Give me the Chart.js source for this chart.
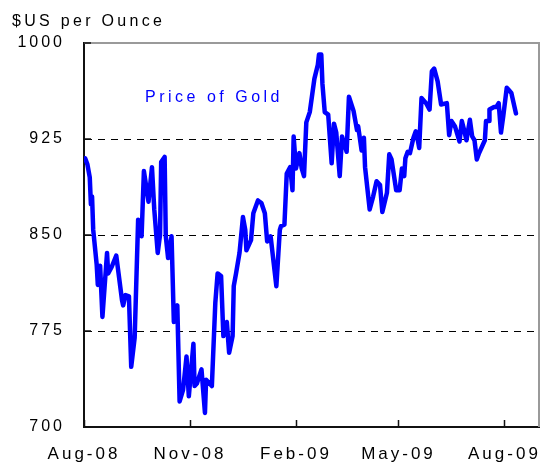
<!DOCTYPE html>
<html>
<head>
<meta charset="utf-8">
<script src="https://cdn.jsdelivr.net/npm/chart.js@4"></script>
<style>
  html, body { margin: 0; padding: 0; background: #fff; }
  canvas { display: block; }
</style>
</head>
<body>
<canvas id="c" width="548" height="463"></canvas>
<script>
// Days since 1 Aug 2008
const days = [1,3,5,6,7,8,11,12,14,16,20,21,24,28,33,34,36,39,41,44,47,50,52,56,59,61,64,66,67,70,71,73,76,78,81,83,86,89,91,95,96,98,102,105,106,111,114,116,119,121,124,126,129,130,132,135,138,140,141,145,147,151,154,157,159,162,167,170,171,174,176,179,181,182,184,187,189,191,193,196,200,203,204,206,207,209,212,215,217,219,222,224,228,230,234,237,238,241,243,244,248,251,254,257,259,263,265,267,271,274,276,278,279,281,283,286,288,290,291,293,297,300,302,304,307,310,315,317,319,322,326,328,330,332,335,337,339,341,343,348,349,352,352,356,358,360,362,364,367,369,371,375];
// Gold price, $US per ounce
const prices = [910,905,895,874,880,854,827,811,826,786,836,820,825,834,799,795,803,802,747,770,862,849,900,876,903,870,836,850,907,911,849,832,849,782,795,720,729,755,724,765,732,734,745,711,737,732,797,820,818,771,782,758,771,810,820,836,864,854,838,846,867,877,875,867,845,849,810,854,857,858,898,903,885,927,902,914,902,896,938,946,972,983,991,991,968,946,944,906,937,930,896,927,915,958,947,932,935,916,926,903,870,880,892,889,868,883,913,909,885,885,902,896,910,915,914,926,931,923,918,957,953,948,978,980,970,952,953,928,939,935,923,939,932,924,940,927,924,909,914,924,939,939,948,950,950,953,930,943,965,963,961,945];
const tickDays = [0, 92, 184, 273, 365];
const tickLabels = ['Aug-08', 'Nov-08', 'Feb-09', 'May-09', 'Aug-09'];
const yTicks = [700, 775, 850, 925, 1000];
const yTitle = '$US per Ounce';
const seriesLabel = 'Price of Gold';

const FONT = "'Liberation Sans', Arial, sans-serif";
Chart.defaults.font.family = FONT;
Chart.defaults.font.size = 16;
Chart.defaults.color = '#000';

const spacingPlugin = {
  id: 'spacing',
  beforeLayout(chart) { chart.ctx.letterSpacing = '3px'; },
  beforeDraw(chart) { chart.ctx.letterSpacing = '3px'; },
  afterDraw(chart) {
    const ctx = chart.ctx;
    const a = chart.chartArea;
    const xs = chart.scales.x, ys = chart.scales.y;
    ctx.save();
    // gray top and right frame
    ctx.strokeStyle = '#9a9a9a';
    ctx.lineWidth = 2;
    ctx.beginPath();
    ctx.moveTo(a.left, a.top);
    ctx.lineTo(a.right, a.top);
    ctx.lineTo(a.right, a.bottom);
    ctx.stroke();
    // inner tick marks
    ctx.strokeStyle = '#111';
    ctx.lineWidth = 1.5;
    ctx.beginPath();
    xs.ticks.forEach(t => {
      const px = Math.round(xs.getPixelForValue(t.value)) + 0.5;
      ctx.moveTo(px, a.bottom);
      ctx.lineTo(px, a.bottom - 7);
    });
    ys.ticks.forEach(t => {
      const py = Math.round(ys.getPixelForValue(t.value));
      ctx.moveTo(a.left, py);
      ctx.lineTo(a.left + 7, py);
    });
    ctx.stroke();
    // texts
    ctx.letterSpacing = '3.3px';
    ctx.font = '16px ' + FONT;
    ctx.fillStyle = '#000';
    ctx.textAlign = 'left';
    ctx.textBaseline = 'alphabetic';
    ctx.fillText(yTitle, 12, 26);
    ctx.letterSpacing = '3.5px';
    ctx.fillStyle = '#0000ff';
    ctx.fillText(seriesLabel, 145, 102);
    ctx.restore();
  }
};

new Chart(document.getElementById('c'), {
  type: 'line',
  data: {
    datasets: [{
      label: seriesLabel,
      data: days.map((d, i) => ({ x: d, y: prices[i] })),
      borderColor: '#0000ff',
      backgroundColor: '#0000ff',
      borderWidth: 4.5,
      pointRadius: 0,
      tension: 0,
      borderJoinStyle: 'round',
      borderCapStyle: 'round'
    }]
  },
  options: {
    responsive: false,
    animation: false,
    layout: { padding: { top: 43, right: 9, left: 0, bottom: 0 } },
    plugins: { legend: { display: false }, tooltip: { enabled: false }, title: { display: false } },
    scales: {
      x: {
        type: 'linear',
        min: 0,
        max: 395,
        afterBuildTicks: s => { s.ticks = tickDays.map(v => ({ value: v })); },
        afterFit: s => { s.height = 36; s.paddingLeft = 0; s.paddingRight = 0; },
        ticks: {
          autoSkip: false,
          maxRotation: 0,
          padding: 17,
          font: { size: 17 },
          callback: (v, i) => tickLabels[i]
        },
        grid: { display: true, color: 'rgba(0,0,0,0)', drawTicks: false },
        border: { display: true, color: '#111', width: 2 }
      },
      y: {
        min: 700,
        max: 1000,
        afterBuildTicks: s => { s.ticks = yTicks.map(v => ({ value: v })); },
        afterFit: s => { s.width = 84; s.paddingTop = 0; s.paddingBottom = 0; },
        ticks: { padding: 19, callback: v => String(v) },
        grid: {
          drawTicks: false,
          lineWidth: 1,
          color: c => (c.tick && c.tick.value > 700 && c.tick.value < 1000) ? '#000' : 'rgba(0,0,0,0)'
        },
        border: { display: true, color: '#111', width: 2, dash: [7, 6] }
      }
    }
  },
  plugins: [spacingPlugin]
});
</script>
</body>
</html>
